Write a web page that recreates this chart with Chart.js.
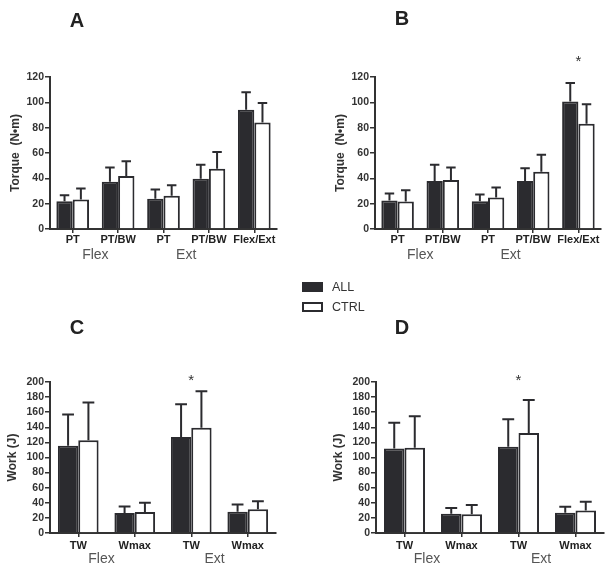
<!DOCTYPE html>
<html>
<head>
<meta charset="utf-8">
<script src="https://cdn.jsdelivr.net/npm/chart.js@4.4.0/dist/chart.umd.min.js"></script>
<style>
body { margin: 0; background: #fff; width: 609px; height: 565px; position: relative; overflow: hidden; font-family: "Liberation Sans", Arial, sans-serif; }
canvas { position: absolute; }
.key { position: absolute; left: 302px; width: 21px; height: 10px; box-sizing: border-box; }
.keytxt { position: absolute; left: 332px; font-size: 12.5px; color: #333; line-height: 14px; }
</style>
</head>
<body>
<canvas id="chartA" width="300" height="290" style="left:0;top:0"></canvas>
<canvas id="chartB" width="309" height="290" style="left:300px;top:0"></canvas>
<canvas id="chartC" width="300" height="275" style="left:0;top:290px"></canvas>
<canvas id="chartD" width="309" height="275" style="left:300px;top:290px"></canvas>
<div class="key" style="top:282px;background:#2b2b2f"></div>
<div class="keytxt" style="top:280px">ALL</div>
<div class="key" style="top:302px;border:2px solid #2b2b2f;background:#fff"></div>
<div class="keytxt" style="top:300px">CTRL</div>
<script>
'use strict';

var torqueLabels = ['PT', 'PT/BW', 'PT', 'PT/BW', 'Flex/Ext'];
var workLabels = ['TW', 'Wmax', 'TW', 'Wmax'];
var groupNames = ['Flex', 'Ext'];
var seriesNames = ['ALL', 'CTRL'];

// A - torque
var aAll = [22.0, 37.3, 23.8, 39.6, 94.1];
var aAllSd = [4.7, 11.3, 7.4, 11.1, 13.9];
var aCtrl = [23.3, 41.8, 26.2, 47.6, 84.0];
var aCtrlSd = [8.7, 11.6, 8.4, 13.2, 15.4];

// B - torque
var bAll = [22.5, 37.8, 21.9, 37.8, 100.7];
var bAllSd = [5.5, 12.9, 5.3, 10.2, 14.5];
var bCtrl = [21.7, 38.6, 24.8, 45.2, 83.0];
var bCtrlSd = [8.9, 10.0, 8.0, 13.4, 15.5];

// C - work
var cAll = [115.6, 26.4, 127.0, 28.1];
var cAllSd = [41.4, 8.8, 43.5, 9.7];
var cCtrl = [123.0, 27.7, 139.3, 31.6];
var cCtrlSd = [49.7, 12.3, 48.4, 10.6];

// D - work
var dAll = [112.0, 25.5, 114.3, 26.8];
var dAllSd = [34.0, 7.5, 36.5, 7.9];
var dCtrl = [113.0, 25.0, 132.3, 29.7];
var dCtrlSd = [41.7, 12.0, 44.0, 11.6];

// significance marks: [category index, height in axis units]
var bStar = [4, 134];
var cStar = [2, 205];
var dStar = [2, 205];

var ink = '#2b2b2f';
Chart.defaults.font.family = '"Liberation Sans", Arial, sans-serif';

var extras = {
    id: 'extras',
    afterDatasetsDraw: function (chart, args, opts) {
        var ctx = chart.ctx;
        var y = chart.scales.y;
        ctx.save();
        ctx.strokeStyle = ink;
        ctx.lineWidth = 2;
        chart.data.datasets.forEach(function (ds, i) {
            var meta = chart.getDatasetMeta(i);
            meta.data.forEach(function (bar, j) {
                var top = y.getPixelForValue(ds.data[j] + ds.sd[j]);
                var half = bar.width * 0.29;
                ctx.beginPath();
                ctx.moveTo(bar.x, bar.y);
                ctx.lineTo(bar.x, top);
                ctx.moveTo(bar.x - half, top);
                ctx.lineTo(bar.x + half, top);
                ctx.stroke();
            });
        });
        ctx.restore();
    },
    afterDraw: function (chart, args, opts) {
        var ctx = chart.ctx;
        var x = chart.scales.x;
        var y = chart.scales.y;
        ctx.save();
        // panel letter
        ctx.fillStyle = '#222';
        ctx.font = 'bold 20px "Liberation Sans", Arial, sans-serif';
        ctx.textAlign = 'center';
        ctx.textBaseline = 'alphabetic';
        ctx.fillText(opts.letter, opts.letterX, opts.letterY);
        // Flex / Ext group labels
        ctx.fillStyle = '#555';
        ctx.font = '14px "Liberation Sans", Arial, sans-serif';
        ctx.textBaseline = 'middle';
        groupNames.forEach(function (g, k) {
            var cx = (x.getPixelForValue(2 * k) + x.getPixelForValue(2 * k + 1)) / 2 + opts.groupShift;
            ctx.fillText(g, cx, chart.chartArea.bottom + opts.groupDy);
        });
        // star
        if (opts.star) {
            ctx.fillStyle = '#333';
            ctx.font = '15px "Liberation Sans", Arial, sans-serif';
            ctx.fillText('*', x.getPixelForValue(opts.star[0]), y.getPixelForValue(opts.star[1]) + 3);
        }
        ctx.restore();
    }
};

function makeChart(id, labels, all, allSd, ctrl, ctrlSd, cfg) {
    var ctx = document.getElementById(id).getContext('2d');
    return new Chart(ctx, {
        type: 'bar',
        data: {
            labels: labels,
            datasets: [{
                label: seriesNames[0],
                data: all,
                sd: allSd,
                backgroundColor: ink,
                borderColor: ink,
                borderWidth: 2
            }, {
                label: seriesNames[1],
                data: ctrl,
                sd: ctrlSd,
                backgroundColor: '#fff',
                borderColor: ink,
                borderWidth: 2
            }]
        },
        options: {
            responsive: false,
            animation: false,
            devicePixelRatio: 1,
            categoryPercentage: 0.72,
            barPercentage: 1.0,
            layout: { padding: cfg.pad },
            plugins: {
                legend: { display: false },
                tooltip: { enabled: false },
                extras: cfg.extras
            },
            scales: {
                x: {
                    offset: true,
                    grid: { offset: false, drawOnChartArea: false, tickLength: 4, color: '#333', lineWidth: 1.5 },
                    border: { color: '#333', width: 2 },
                    ticks: { font: { size: 11, weight: 'bold' }, color: '#222', padding: cfg.xPad, maxRotation: 0, autoSkip: false },
                    afterFit: function (s) { s.height = cfg.xHeight; }
                },
                y: {
                    min: 0,
                    max: cfg.yMax,
                    grid: { drawOnChartArea: false, tickLength: 5, color: '#333', lineWidth: 1.5 },
                    border: { color: '#333', width: 2 },
                    ticks: { stepSize: 20, autoSkip: false, font: { size: 10.5, weight: 'bold' }, color: '#333', padding: 1 },
                    title: { display: true, text: cfg.yTitle, font: { size: 12, weight: 'bold' }, color: '#333', padding: { top: cfg.titlePad, bottom: 0 } },
                    afterFit: function (s) { s.width = 50; }
                }
            }
        },
        plugins: [extras]
    });
}

makeChart('chartA', torqueLabels, aAll, aAllSd, aCtrl, aCtrlSd, {
    yMax: 120, yTitle: 'Torque  (N\u2022m)', titlePad: 8, xHeight: 61, xPad: 0,
    pad: { left: 0, top: 77, right: 23, bottom: 0 },
    extras: { letter: 'A', letterX: 77, letterY: 27, groupShift: 0, groupDy: 26, star: null }
});
makeChart('chartB', torqueLabels, bAll, bAllSd, bCtrl, bCtrlSd, {
    yMax: 120, yTitle: 'Torque  (N\u2022m)', titlePad: 8, xHeight: 61, xPad: 0,
    pad: { left: 25, top: 77, right: 8, bottom: 0 },
    extras: { letter: 'B', letterX: 102, letterY: 25, groupShift: 0, groupDy: 26, star: bStar }
});
makeChart('chartC', workLabels, cAll, cAllSd, cCtrl, cCtrlSd, {
    yMax: 200, yTitle: 'Work (J)', titlePad: 5, xHeight: 32, xPad: 2,
    pad: { left: 0, top: 92, right: 24, bottom: 0 },
    extras: { letter: 'C', letterX: 77, letterY: 44, groupShift: -5, groupDy: 26, star: cStar }
});
makeChart('chartD', workLabels, dAll, dAllSd, dCtrl, dCtrlSd, {
    yMax: 200, yTitle: 'Work (J)', titlePad: 5, xHeight: 32, xPad: 2,
    pad: { left: 26, top: 92, right: 5, bottom: 0 },
    extras: { letter: 'D', letterX: 102, letterY: 44, groupShift: -6, groupDy: 26, star: dStar }
});
</script>
</body>
</html>
